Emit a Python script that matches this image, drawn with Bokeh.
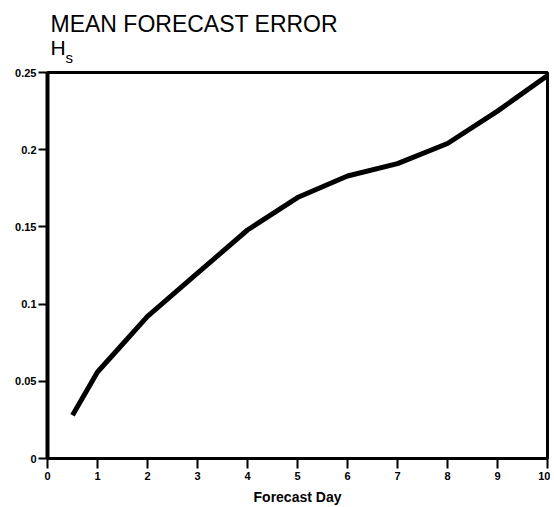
from bokeh.plotting import figure
from bokeh.models import Range1d, FixedTicker, CustomJSTickFormatter, Label
from bokeh.embed import file_html
from bokeh.resources import INLINE

# data
days = [0.5, 1, 1.5, 2, 3, 4, 5, 6, 7, 8, 9, 10]
mean_error = [0.028, 0.056, 0.074, 0.092, 0.120, 0.148, 0.169, 0.183, 0.191, 0.204, 0.225, 0.248]
x_ticks = [0, 1, 2, 3, 4, 5, 6, 7, 8, 9, 10]
y_ticks = [0, 0.05, 0.1, 0.15, 0.2, 0.25]
title_text = "MEAN FORECAST ERROR"
subtitle_main = "H"
subtitle_sub = "s"
x_label = "Forecast Day"

FONT = "Liberation Sans"
W, H = 550, 507

p = figure(width=W, height=H, output_backend="svg", toolbar_location=None,
           x_range=Range1d(0, 10), y_range=Range1d(0, 0.25),
           min_border_left=47, min_border_top=72, min_border_bottom=48, min_border_right=3)

p.line(days, mean_error, line_color="black", line_width=5, line_join="round")

p.xgrid.visible = False
p.ygrid.visible = False
p.outline_line_color = "black"
p.outline_line_width = 3
p.outline_line_alpha = 1

for ax in (p.xaxis[0], p.yaxis[0]):
    ax.axis_line_color = "black"
    ax.axis_line_width = 3
    ax.major_tick_line_color = "black"
    ax.major_tick_line_width = 2
    ax.major_tick_in = 0
    ax.minor_tick_line_color = None
    ax.major_label_text_font = FONT
    ax.major_label_text_font_style = "bold"
    ax.major_label_text_font_size = "11px"
    ax.major_label_text_color = "black"

p.yaxis[0].axis_line_width = 4
p.xaxis[0].ticker = FixedTicker(ticks=x_ticks)
p.yaxis[0].ticker = FixedTicker(ticks=y_ticks)
p.yaxis[0].formatter = CustomJSTickFormatter(code="return String(Number(tick.toFixed(2)));")
p.xaxis[0].major_tick_out = 10
p.yaxis[0].major_tick_out = 9
p.xaxis[0].major_label_standoff = 3
p.yaxis[0].major_label_standoff = 2

p.xaxis[0].axis_label = x_label
p.xaxis[0].axis_label_text_font = FONT
p.xaxis[0].axis_label_text_font_style = "bold"
p.xaxis[0].axis_label_text_font_size = "14px"
p.xaxis[0].axis_label_text_color = "black"
p.xaxis[0].axis_label_standoff = 6

p.add_layout(Label(x=3, y=49, x_units="screen", y_units="screen",
                   text=title_text, text_font=FONT, text_font_size="23px",
                   text_color="black", text_baseline="alphabetic"), "above")
p.add_layout(Label(x=3, y=-1, x_units="screen", y_units="screen",
                   text=subtitle_main, text_font=FONT, text_font_size="21px",
                   text_color="black", text_baseline="alphabetic"), "above")
p.add_layout(Label(x=18, y=-34, x_units="screen", y_units="screen",
                   text=subtitle_sub, text_font=FONT, text_font_size="15px",
                   text_color="black", text_baseline="alphabetic"), "above")

open("out.html", "w").write(file_html(p, INLINE))
